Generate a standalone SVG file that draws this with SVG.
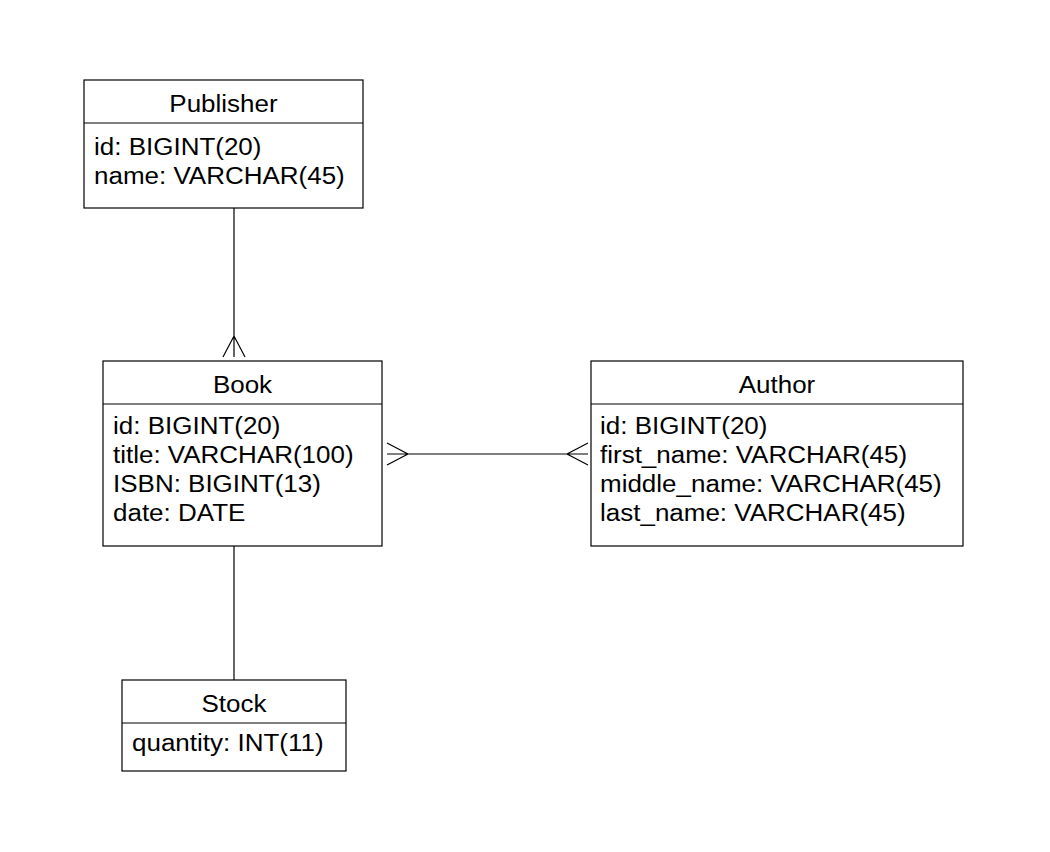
<svg xmlns="http://www.w3.org/2000/svg" width="1050" height="852" viewBox="0 0 1050 852">
<style>
  .box { fill: #fff; stroke: #000; stroke-width: 1.2; }
  .div { stroke: #000; stroke-width: 1.2; }
  .t { font-family: "Liberation Sans", Arial, sans-serif; font-size: 23px; fill: #000; }
  .c { text-anchor: middle; }
  .conn { stroke: #000; stroke-width: 1.2; fill: none; }
</style>
<rect width="1050" height="852" fill="#fff"/>
<g id="connectors">
  <path class="conn" d="M234,208 V357 M223,357 L234,336 L245,357"/>
  <path class="conn" d="M387,454 H588 M387,443 L408,454 L387,465 M588,443 L567,454 L588,465"/>
  <path class="conn" d="M234,546 V680"/>
</g>
<g id="publisher">
  <rect class="box" x="84" y="80" width="279" height="128"/>
  <line class="div" x1="84" y1="123" x2="363" y2="123"/>
  <text class="t c" transform="translate(223.5,112) scale(1.13,1)">Publisher</text>
  <text class="t" transform="translate(94,154.5) scale(1.13,1)">id: BIGINT(20)</text>
  <text class="t" transform="translate(94,183.5) scale(1.13,1)">name: VARCHAR(45)</text>
</g>
<g id="book">
  <rect class="box" x="103" y="361" width="279" height="185"/>
  <line class="div" x1="103" y1="404" x2="382" y2="404"/>
  <text class="t c" transform="translate(242.5,393) scale(1.13,1)">Book</text>
  <text class="t" transform="translate(113,434) scale(1.13,1)">id: BIGINT(20)</text>
  <text class="t" transform="translate(113,463) scale(1.13,1)">title: VARCHAR(100)</text>
  <text class="t" transform="translate(113,492) scale(1.13,1)">ISBN: BIGINT(13)</text>
  <text class="t" transform="translate(113,521) scale(1.13,1)">date: DATE</text>
</g>
<g id="author">
  <rect class="box" x="591" y="361" width="372" height="185"/>
  <line class="div" x1="591" y1="404" x2="963" y2="404"/>
  <text class="t c" transform="translate(777,393) scale(1.13,1)">Author</text>
  <text class="t" transform="translate(600,434) scale(1.13,1)">id: BIGINT(20)</text>
  <text class="t" transform="translate(600,463) scale(1.13,1)">first_name: VARCHAR(45)</text>
  <text class="t" transform="translate(600,492) scale(1.13,1)">middle_name: VARCHAR(45)</text>
  <text class="t" transform="translate(600,521) scale(1.13,1)">last_name: VARCHAR(45)</text>
</g>
<g id="stock">
  <rect class="box" x="122" y="680" width="224" height="91"/>
  <line class="div" x1="122" y1="723" x2="346" y2="723"/>
  <text class="t c" transform="translate(234,712) scale(1.13,1)">Stock</text>
  <text class="t" transform="translate(132,751) scale(1.13,1)">quantity: INT(11)</text>
</g>
</svg>
